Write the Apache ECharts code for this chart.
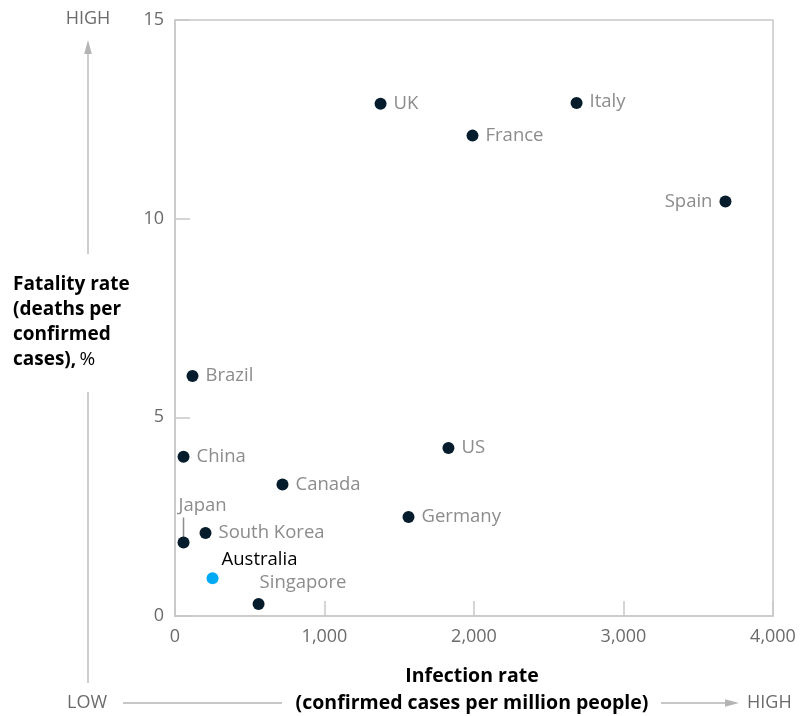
<!DOCTYPE html>
<html>
<head>
<meta charset="utf-8">
<script src="https://cdn.jsdelivr.net/npm/echarts@6/dist/echarts.min.js"></script>
<style>
  html, body { margin: 0; padding: 0; background: #fff; }
  #chart { width: 800px; height: 716px; }
</style>
</head>
<body>
<div id="chart"></div>
<script>
// Countries with infection rate (confirmed cases per million people) and fatality rate (%)
const countries = ['UK', 'Italy', 'France', 'Spain', 'Brazil', 'China', 'US', 'Canada', 'Germany', 'Japan', 'South Korea', 'Australia', 'Singapore'];
const infectionRate = [1375, 2686, 1990, 3682, 117, 57, 1829, 719, 1562, 57, 204, 251, 559];
const fatalityRate = [12.89, 12.91, 12.09, 10.43, 6.04, 4.01, 4.23, 3.31, 2.49, 1.85, 2.09, 0.95, 0.30];

// Axis ranges and tick steps
const xRange = [0, 4000];
const xStep = 1000;
const yRange = [0, 15];
const yStep = 5;

const FONT = '"Open Sans", "Liberation Sans", sans-serif';
const DOT = '#051c2c';
const HIGHLIGHT = '#00a9f4';
const LABEL_GREY = '#8c8c8c';
const AXIS_GREY = '#c8c8c8';
const ARROW_GREY = '#b4b4b4';

// Per-country label placement
const labelStyle = {
  Italy: { position: 'right', distance: 7, offset: [0, -1.5] },
  Spain: { position: 'left', distance: 7 },
  Japan: { position: [1, -31], align: 'left', verticalAlign: 'middle' },
  Australia: { position: [15, -13], align: 'left', verticalAlign: 'middle', color: '#000' },
  Singapore: { position: [7, -15], align: 'left', verticalAlign: 'middle' }
};

const points = countries.map((name, i) => {
  const item = {
    name: name,
    value: [infectionRate[i], fatalityRate[i]],
    label: Object.assign({}, labelStyle[name] || {})
  };
  if (name === 'Australia') item.itemStyle = { color: HIGHLIGHT };
  return item;
});

const chart = echarts.init(document.getElementById('chart'), null, { renderer: 'canvas' });

const graphics = [
  // vertical "LOW → HIGH" arrow for fatality rate
  { type: 'line', shape: { x1: 88, y1: 54, x2: 88, y2: 254 }, style: { stroke: ARROW_GREY, lineWidth: 1.3 } },
  { type: 'polygon', shape: { points: [[88, 40], [84.2, 54], [91.8, 54]] }, style: { fill: ARROW_GREY } },
  { type: 'line', shape: { x1: 88, y1: 392, x2: 88, y2: 683 }, style: { stroke: ARROW_GREY, lineWidth: 1.3 } },
  { type: 'text', style: { x: 88, y: 19, text: 'HIGH', align: 'center', verticalAlign: 'middle', font: '18px ' + FONT, fill: '#6b6b6b' } },
  // horizontal arrow for infection rate
  { type: 'text', style: { x: 67, y: 703, text: 'LOW', align: 'left', verticalAlign: 'middle', font: '18px ' + FONT, fill: '#6b6b6b' } },
  { type: 'line', shape: { x1: 123, y1: 703, x2: 282, y2: 703 }, style: { stroke: ARROW_GREY, lineWidth: 1.3 } },
  { type: 'line', shape: { x1: 661, y1: 703, x2: 726, y2: 703 }, style: { stroke: ARROW_GREY, lineWidth: 1.3 } },
  { type: 'polygon', shape: { points: [[739, 703], [725, 699.3], [725, 706.7]] }, style: { fill: ARROW_GREY } },
  { type: 'text', style: { x: 747, y: 703, text: 'HIGH', align: 'left', verticalAlign: 'middle', font: '18px ' + FONT, fill: '#6b6b6b' } },
  // axis titles
  { type: 'text', style: {
      x: 13, y: 272.5, align: 'left', verticalAlign: 'top',
      text: '{b|Fatality rate}\n{b|(deaths per}\n{b|confirmed}\n{b|cases),} {n|%}',
      rich: {
        b: { font: 'bold 19px ' + FONT, fill: '#000', lineHeight: 25 },
        n: { font: '19px ' + FONT, fill: '#000', lineHeight: 25 }
      }
  } },
  { type: 'text', style: { x: 472, y: 676, text: 'Infection rate', align: 'center', verticalAlign: 'middle', font: 'bold 19.5px ' + FONT, fill: '#000' } },
  { type: 'text', style: { x: 472, y: 703, text: '(confirmed cases per million people)', align: 'center', verticalAlign: 'middle', font: 'bold 19.5px ' + FONT, fill: '#000' } }
];

const option = {
  animation: false,
  backgroundColor: '#fff',
  grid: {
    left: 175, right: 27, top: 20, bottom: 100,
    show: true, borderColor: AXIS_GREY, borderWidth: 1.5, backgroundColor: 'transparent'
  },
  xAxis: {
    type: 'value', min: xRange[0], max: xRange[1], interval: xStep,
    axisLine: { show: true, lineStyle: { color: AXIS_GREY, width: 1.5 } },
    axisTick: { show: true, inside: true, length: 15, lineStyle: { color: AXIS_GREY, width: 1.5 } },
    splitLine: { show: false },
    axisLabel: {
      margin: 12, color: '#6b6b6b', fontFamily: FONT, fontSize: 18,
      formatter: v => v.toLocaleString('en-US')
    }
  },
  yAxis: {
    type: 'value', min: yRange[0], max: yRange[1], interval: yStep,
    axisLine: { show: true, lineStyle: { color: AXIS_GREY, width: 1.5 } },
    axisTick: { show: true, inside: true, length: 15, lineStyle: { color: AXIS_GREY, width: 1.5 } },
    splitLine: { show: false },
    axisLabel: { margin: 11, color: '#6b6b6b', fontFamily: FONT, fontSize: 18 }
  },
  series: [{
    type: 'scatter',
    symbol: 'circle',
    symbolSize: 12,
    itemStyle: { color: DOT, opacity: 1 },
    label: {
      show: true, position: 'right', distance: 7,
      formatter: p => p.name,
      color: LABEL_GREY, fontFamily: FONT, fontSize: 18.5
    },
    emphasis: { disabled: true },
    data: points
  }],
  graphic: graphics
};

chart.setOption(option);

// Short leader line from the Japan label down to its dot
const jIdx = countries.indexOf('Japan');
const jp = chart.convertToPixel({ xAxisIndex: 0, yAxisIndex: 0 }, [infectionRate[jIdx], fatalityRate[jIdx]]);
graphics.push({
  type: 'line',
  shape: { x1: jp[0], y1: jp[1] - 25, x2: jp[0], y2: jp[1] - 4 },
  style: { stroke: '#8c8c8c', lineWidth: 1.5 }
});
chart.setOption({ graphic: graphics });
</script>
</body>
</html>
